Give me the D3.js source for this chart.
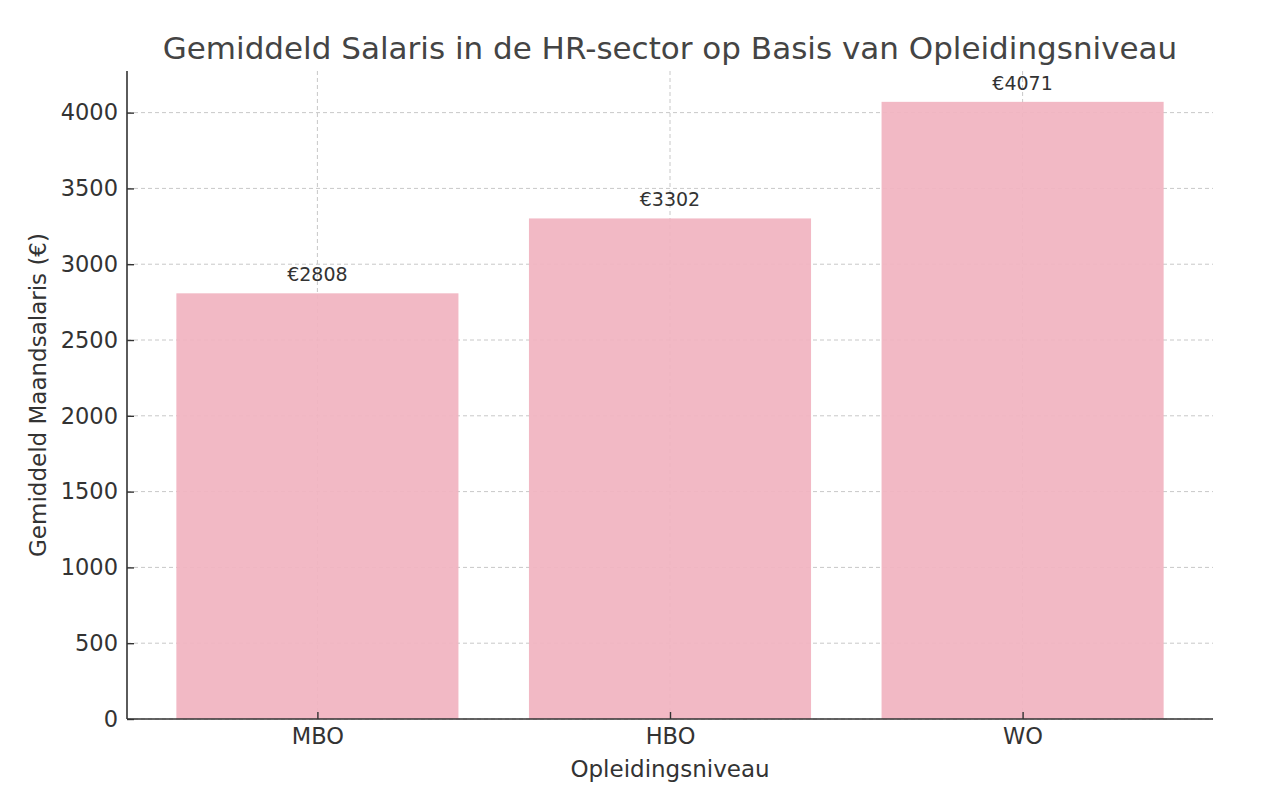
<!DOCTYPE html>
<html>
<head>
<meta charset="utf-8">
<script src="https://cdn.jsdelivr.net/npm/d3@7"></script>
<style>
body { margin: 0; background: #fff; }
text { font-family: "DejaVu Sans", sans-serif; }
</style>
</head>
<body>
<script>
var levels = ["MBO", "HBO", "WO"];
var salaries = [2808, 3302, 4071];
var yTicks = [0, 500, 1000, 1500, 2000, 2500, 3000, 3500, 4000];

var w = 1280, h = 788;
var m = {top: 71, right: 67, bottom: 69, left: 127};

var svg = d3.select("body").append("svg")
    .attr("width", w)
    .attr("height", h);

// matplotlib-like limits: bars of width 0.8, 5% margins
var x = d3.scaleLinear()
    .domain([-0.54, levels.length - 1 + 0.54])
    .range([m.left, w - m.right]);
var y = d3.scaleLinear()
    .domain([0, d3.max(salaries) * 1.05])
    .range([h - m.bottom, m.top]);

var g = svg.append("g");

// grid
g.selectAll(".hgrid").data(yTicks).enter().append("line")
    .attr("x1", m.left).attr("x2", w - m.right)
    .attr("y1", function(d) { return y(d); })
    .attr("y2", function(d) { return y(d); })
    .style("stroke", "#c8c8c8")
    .style("stroke-width", 1)
    .style("stroke-dasharray", "4,3");
g.selectAll(".vgrid").data(levels).enter().append("line")
    .attr("x1", function(d, i) { return x(i); })
    .attr("x2", function(d, i) { return x(i); })
    .attr("y1", m.top).attr("y2", h - m.bottom)
    .style("stroke", "#c8c8c8")
    .style("stroke-width", 1)
    .style("stroke-dasharray", "4,3");

// bars
g.selectAll(".bar").data(salaries).enter().append("rect")
    .attr("x", function(d, i) { return x(i - 0.4); })
    .attr("width", x(0.4) - x(-0.4))
    .attr("y", function(d) { return y(d); })
    .attr("height", function(d) { return y(0) - y(d); })
    .style("fill", "#f1b4c1")
    .style("opacity", 0.93);

// value labels
g.selectAll(".lbl").data(salaries).enter().append("text")
    .attr("x", function(d, i) { return x(i); })
    .attr("y", function(d) { return y(d) - 12; })
    .attr("text-anchor", "middle")
    .style("font-size", "19px")
    .style("fill", "#333")
    .text(function(d) { return "€" + d; });

// axes, ticks point inward
var yAxis = d3.axisLeft(y).tickValues(yTicks).tickFormat(d3.format("d"))
    .tickSize(-7).tickPadding(9);
var xAxis = d3.axisBottom(x).tickValues(d3.range(levels.length))
    .tickFormat(function(i) { return levels[i]; }).tickSize(-7).tickPadding(9);

var ya = svg.append("g").attr("transform", "translate(" + m.left + ",0)").call(yAxis);
var xa = svg.append("g").attr("transform", "translate(0," + (h - m.bottom) + ")").call(xAxis);
[ya, xa].forEach(function(a) {
    a.select(".domain").style("stroke", "#333").style("stroke-width", 1.6)
        .attr("d", a === ya
            ? "M0," + (h - m.bottom) + "V" + m.top
            : "M" + m.left + ",0H" + (w - m.right));
    a.selectAll(".tick line").style("stroke", "#333").style("stroke-width", 1.4);
    a.selectAll(".tick text").style("font-size", "22.5px").style("fill", "#333")
        .style("font-family", "DejaVu Sans, sans-serif");
});

// titles
svg.append("text")
    .attr("x", (m.left + w - m.right) / 2)
    .attr("y", 59)
    .attr("text-anchor", "middle")
    .style("font-size", "31px")
    .style("fill", "#444")
    .text("Gemiddeld Salaris in de HR-sector op Basis van Opleidingsniveau");

svg.append("text")
    .attr("x", (m.left + w - m.right) / 2)
    .attr("y", 777)
    .attr("text-anchor", "middle")
    .style("font-size", "23px")
    .style("fill", "#333")
    .text("Opleidingsniveau");

svg.append("text")
    .attr("transform", "translate(46," + ((m.top + h - m.bottom) / 2) + ") rotate(-90)")
    .attr("text-anchor", "middle")
    .style("font-size", "23px")
    .style("fill", "#333")
    .text("Gemiddeld Maandsalaris (€)");
</script>
</body>
</html>
